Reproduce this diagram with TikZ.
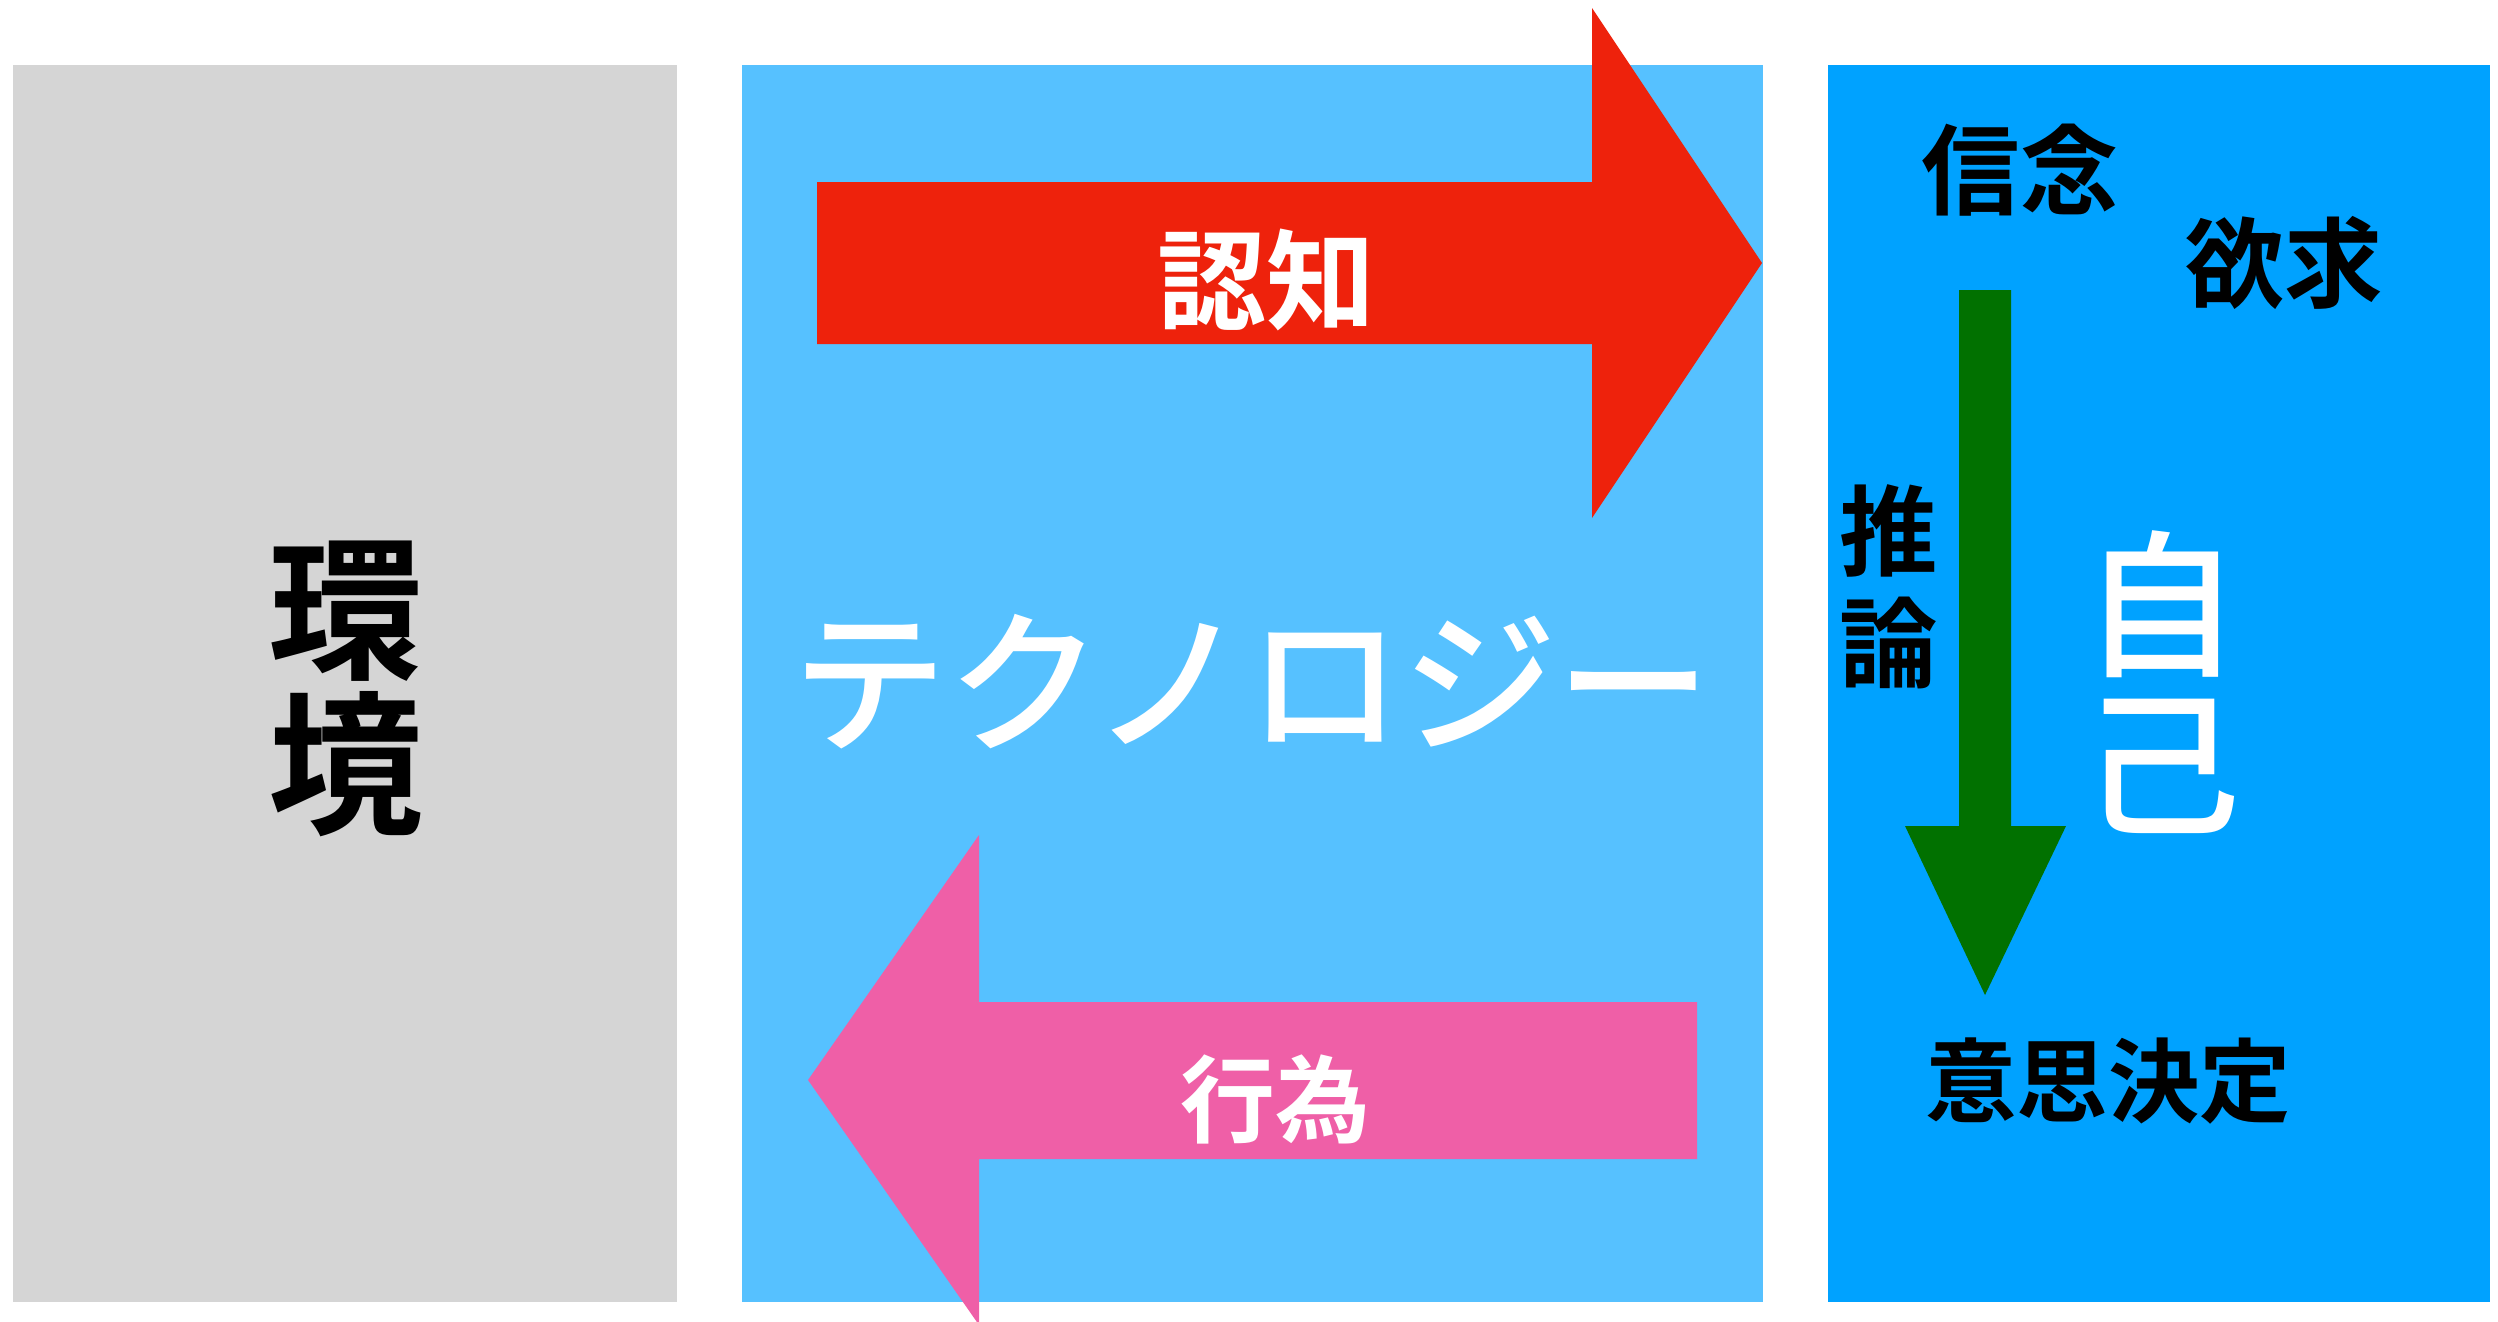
\documentclass[tikz,border=0pt]{standalone}
\usepackage{fontspec}
\newfontfamily\jp{Noto Sans CJK JP}[BoldFont={Noto Sans CJK JP Bold}]
\newfontfamily\jpmed{Noto Sans CJK JP Medium}
\definecolor{envgray}{HTML}{D5D5D5}
\definecolor{techblue}{HTML}{56C1FF}
\definecolor{selfblue}{HTML}{00A2FF}
\definecolor{cogred}{HTML}{EE220C}
\definecolor{actpink}{HTML}{EF5FA7}
\definecolor{infgreen}{HTML}{017100}
\tikzset{
  word/.style={inner sep=0pt, align=center, font=\jp\bfseries\fontsize{28}{32}\selectfont},
  bigword/.style={inner sep=0pt, align=center, font=\jpmed\fontsize{#1}{#1}\selectfont},
}
\begin{document}
\begin{tikzpicture}[x=0.01cm,y=-0.01cm]
	\useasboundingbox (0,0) rectangle (2498,1321);

	% draw the three panels
	\fill[envgray]  (13,65)   rectangle (677,1302);
	\fill[techblue] (742,65)  rectangle (1763,1302);
	\fill[selfblue] (1828,65) rectangle (2490,1302);

	% cognition arrow, from the technology into the self
	\fill[cogred] (817,182) -- (1592,182) -- (1592,8) -- (1762,263)
		-- (1592,518) -- (1592,344) -- (817,344) -- cycle;
	% action arrow, back towards the environment
	\fill[actpink] (1697,1002) -- (979,1002) -- (979,835) -- (808,1080)
		-- (979,1325) -- (979,1159) -- (1697,1159) -- cycle;
	% inference arrow inside the self
	\fill[infgreen] (1959,290) -- (2011,290) -- (2011,826) -- (2066,826)
		-- (1985,995) -- (1905,826) -- (1959,826) -- cycle;

	% panel titles
	\node[word, font=\jp\bfseries\fontsize{44}{44}\selectfont] (env) at (346,689) {環\\境};
	\node[bigword=44, text=white] (tech) at (1252,682) {テクノロジー};
	\node[bigword=45, text=white] (self) at (2162,682) {自\\己};

	% arrow labels
	\node[word, text=white, font=\jp\bfseries\fontsize{31}{31}\selectfont] (cog) at (1266,280) {認知};
	\node[word, text=white, font=\jp\bfseries\fontsize{27}{27}\selectfont] (act) at (1275,1099) {行為};

	% the parts of the self
	\node[word] (belief) at (2020,170) {信念};
	\node[word] (desire) at (2284,263) {欲求};
	\node[word] (infer)  at (1889,587) {推\\論};
	\node[word, font=\jp\bfseries\fontsize{26}{26}\selectfont] (decide) at (2108,1081) {意思決定};
\end{tikzpicture}
\end{document}
